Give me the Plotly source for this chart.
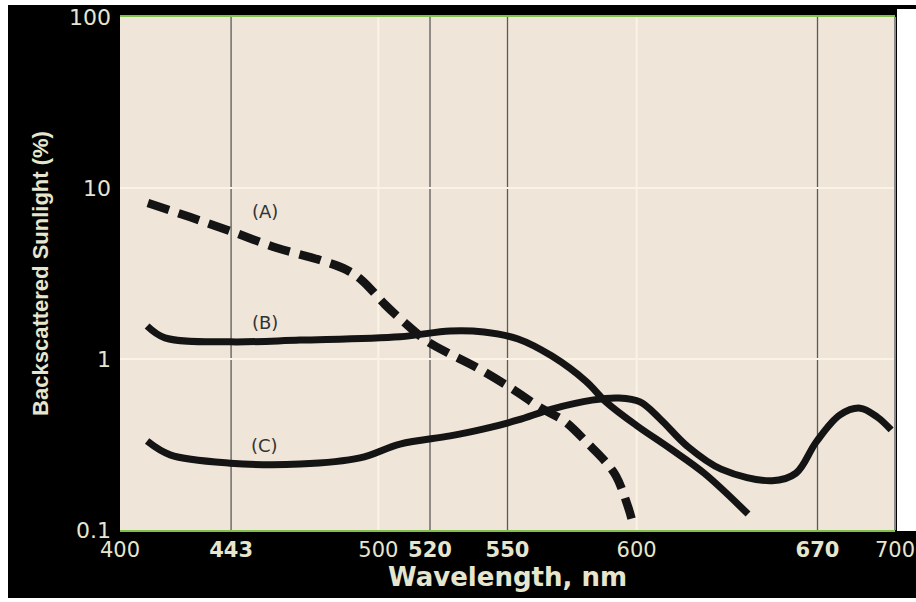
import math
import plotly.graph_objects as go

# ---- data ----
a_wl = [410.8, 427.1, 443.7, 460.8, 477.4, 487.9, 493.7, 502.6, 509.6, 518.9, 528.9,
        537.0, 551.4, 563.0, 572.3, 581.6, 587.0, 592.0, 596.7, 598.6]
a_val = [8.17, 6.76, 5.53, 4.46, 3.79, 3.31, 2.88, 2.08, 1.66, 1.27, 1.05,
         0.91, 0.676, 0.516, 0.43, 0.315, 0.260, 0.207, 0.136, 0.108]

b_wl = [410.5, 417.4, 442.6, 469.7, 508.4, 527.8, 540.9, 554.1, 567.2, 580.4, 588.2,
        599.8, 612.9, 626.1, 643.1]
b_val = [1.56, 1.33, 1.26, 1.29, 1.35, 1.46, 1.44, 1.31, 1.04, 0.74, 0.56,
         0.41, 0.30, 0.215, 0.124]

c_wl = [410.5, 419.4, 442.6, 469.7, 492.9, 508.4, 527.8, 540.9, 554.1, 567.2, 582.7,
        593.2, 601.3, 609.1, 619.5, 632.7, 652.4, 661.7, 669.5, 678.7, 686.5, 693.1, 698.5]
c_val = [0.331, 0.275, 0.246, 0.243, 0.264, 0.318, 0.355, 0.390, 0.440, 0.510, 0.575,
         0.591, 0.561, 0.446, 0.310, 0.227, 0.194, 0.215, 0.327, 0.471, 0.516, 0.458, 0.385]

curve_labels = ["(A)", "(B)", "(C)"]
label_wl = [456, 456, 456]
label_val = [7.24, 1.64, 0.314]

x_tickvals = [400, 443, 500, 520, 550, 600, 670, 700]
x_ticktext = ["400", "<b>443</b>", "500", "<b>520</b>", "<b>550</b>", "600", "<b>670</b>", "700"]
y_tickvals = [0.1, 1, 10, 100]
y_ticktext = ["0.1", "1", "10", "100"]
grid_dark = [443, 520, 550, 670]
grid_light = [500, 600]

# ---- figure ----
W, H = 916, 602
ML, MR, MT, MB = 120, 21, 17, 72
PW, PH = W - ML - MR, H - MT - MB


def px_x(p):
    return (p - ML) / PW


def px_y(p):
    return (H - MB - p) / PH


LINE = "#141414"
TXT = "#e6e6cf"

fig = go.Figure()
fig.add_trace(go.Scatter(x=a_wl, y=a_val, mode="lines",
                         line=dict(color=LINE, width=8.5, dash="22px,10px", shape="spline"),
                         name="A", showlegend=False))
fig.add_trace(go.Scatter(x=b_wl, y=b_val, mode="lines", line=dict(color=LINE, width=7, shape="spline"),
                         name="B", showlegend=False))
fig.add_trace(go.Scatter(x=c_wl, y=c_val, mode="lines", line=dict(color=LINE, width=7, shape="spline"),
                         name="C", showlegend=False))

for t, xw, yv in zip(curve_labels, label_wl, label_val):
    fig.add_annotation(x=xw, y=math.log10(yv), text=t, showarrow=False,
                       font=dict(family="DejaVu Sans", size=18, color="#333333"))

shapes = []
for g in grid_dark:
    shapes.append(dict(type="line", xref="x", yref="paper", x0=g, x1=g, y0=0, y1=1,
                       line=dict(color="#5a5a5a", width=1.3), layer="below"))
for g in grid_light:
    shapes.append(dict(type="line", xref="x", yref="paper", x0=g, x1=g, y0=0, y1=1,
                       line=dict(color="#fbf4e4", width=2), layer="below"))

# white page margins around the black frame
white = dict(type="rect", xref="paper", yref="paper", fillcolor="white", line=dict(width=0), layer="above")
shapes += [
    dict(white, x0=px_x(-2), x1=px_x(W + 2), y0=px_y(5), y1=px_y(-2)),
    dict(white, x0=px_x(-2), x1=px_x(8), y0=px_y(H + 2), y1=px_y(-2)),
    dict(white, x0=px_x(897), x1=px_x(W + 2), y0=px_y(531), y1=px_y(9)),
    dict(white, x0=px_x(-2), x1=px_x(W + 2), y0=px_y(H + 2), y1=px_y(598)),
]
shapes.append(dict(type="line", xref="paper", yref="paper", x0=1, x1=1, y0=0, y1=1,
                   line=dict(color="#8a8a8a", width=2)))
fig.update_layout(shapes=shapes)

fig.update_layout(
    width=W, height=H,
    margin=dict(l=ML, r=MR, t=MT, b=MB),
    paper_bgcolor="black",
    plot_bgcolor="#efe5d8",
    font=dict(family="DejaVu Sans", color=TXT),
    xaxis=dict(range=[400, 700], tickvals=x_tickvals, ticktext=x_ticktext, showgrid=False,
               automargin=False,
               zeroline=False, showline=True, linecolor="#7fbf4a", linewidth=2, mirror=True,
               ticks="", tickfont=dict(size=21, color=TXT, family="DejaVu Sans"),
               title=dict(text="<b>Wavelength, nm</b>", standoff=4,
                          font=dict(size=26, color=TXT, family="DejaVu Sans"))),
    yaxis=dict(type="log", range=[-1, 2], tickvals=y_tickvals, ticktext=y_ticktext,
               automargin=False,
               showgrid=True, gridcolor="#fbf4e6", gridwidth=1.5, zeroline=False,
               showline=False, ticks="", ticklabelstandoff=8,
               tickfont=dict(size=22, color=TXT, family="DejaVu Sans"),
               title=dict(text="<b>Backscattered Sunlight (%)</b>", standoff=14,
                          font=dict(size=22, color=TXT, family="Liberation Sans, Arial"))),
)

fig.write_html("out.html", config={"displayModeBar": False},
               post_script="document.body.style.margin='0px';document.body.style.overflow='hidden';")
